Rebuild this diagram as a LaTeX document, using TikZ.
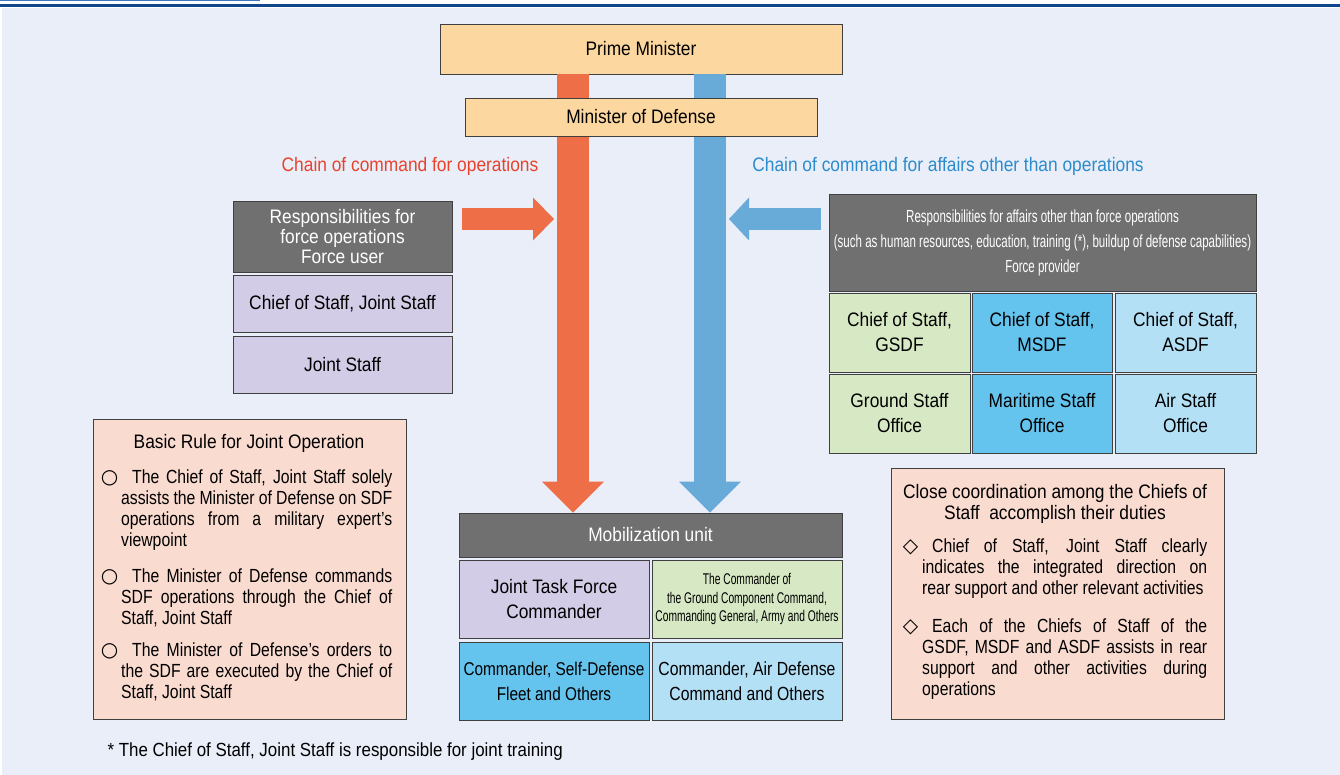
\documentclass[tikz,border=0pt]{standalone}
\usepackage{fontspec}
\setmainfont{Liberation Sans}[FakeStretch=0.89]
\newfontfamily\bodyfont{Liberation Sans}[FakeStretch=0.83]
\newfontfamily\narrowfont{Liberation Sans}[FakeStretch=0.66]
\newfontfamily\symfont{DejaVu Sans}
\usetikzlibrary{arrows.meta,calc,positioning}
\definecolor{mdbg}{RGB}{233,238,249}
\definecolor{mdline}{RGB}{18,70,138}
\definecolor{mdstrip}{RGB}{60,120,190}
\definecolor{mdpeach}{RGB}{252,216,160}
\definecolor{mdgray}{RGB}{112,112,112}
\definecolor{mdlilac}{RGB}{210,204,230}
\definecolor{mdgreen}{RGB}{215,232,196}
\definecolor{mdblue}{RGB}{100,196,238}
\definecolor{mdsky}{RGB}{180,224,246}
\definecolor{mdpink}{RGB}{250,219,208}
\definecolor{mdred}{RGB}{238,111,71}
\definecolor{mdazure}{RGB}{104,170,216}
\definecolor{mdredtxt}{RGB}{232,66,44}
\definecolor{mdbluetxt}{RGB}{44,139,204}
\newcommand{\orgcell}[7]{%
  \node[cell,fill=#6,minimum width=#4pt,minimum height=#5pt] (#1) at (#2,#3) {#7};
}
\newcommand{\circitem}{\leavevmode\llap{\fontsize{20}{20}\symfont ○\hspace{3pt}}\hspace*{11pt}}
\newcommand{\diaitem}{\leavevmode\llap{\fontsize{20}{20}\symfont ◇\hspace{4pt}}\hspace*{10pt}}

\begin{document}
\begin{tikzpicture}[x=1pt,y=-1pt,font=\fontsize{19.5}{21}\selectfont,
    cell/.style={draw=black!75,line width=0.9pt,inner sep=0pt,align=center,
      font=\fontsize{19.5}{25}\selectfont},
    rule/.style={anchor=north west,inner sep=0pt,align=justify,
      font=\bodyfont\fontsize{19}{21}\selectfont},
    chainred/.style={draw=mdred,line width=32pt,-{Triangle[length=31pt,width=62pt,line width=0pt]}},
    chainblue/.style={draw=mdazure,line width=32pt,-{Triangle[length=31pt,width=62pt,line width=0pt]}},
    sidered/.style={draw=mdred,line width=22pt,-{Triangle[length=21pt,width=43pt,line width=0pt]}},
    sideblue/.style={draw=mdazure,line width=22pt,-{Triangle[length=20pt,width=43pt,line width=0pt]}}]
  \useasboundingbox (0,0) rectangle (1340,775);
  \fill[white] (0,0) rectangle (1340,775);
  \fill[mdbg] (2,8) rectangle (1340,775);
  \fill[mdline] (0,4) rectangle (1340,7);
  \fill[mdstrip] (0,0) rectangle (260,1.5);

  \orgcell{pm}{641}{49}{402}{50}{mdpeach}{Prime Minister}
  \orgcell{mob}{650.5}{535}{383}{44}{mdgray}{\color{white}Mobilization unit}
  \coordinate (redx) at (573,0);
  \coordinate (bluex) at (710,0);
  \draw[chainred] (pm.south -| redx) -- (mob.north -| redx);
  \draw[chainblue] (pm.south -| bluex) -- (mob.north -| bluex);
  \orgcell{mod}{641}{117}{352}{38}{mdpeach}{Minister of Defense}

  \node[text=mdredtxt] (opslabel) at (410,166) {Chain of command for operations};
  \node[text=mdbluetxt] (afflabel) at (948,166) {Chain of command for affairs other than operations};

  \node[cell,fill=mdgray,text=white,minimum width=219pt,minimum height=71pt,
    font=\fontsize{19.5}{20}\selectfont] (user) at (342.5,236.5)
    {Responsibilities for\\force operations\\Force user};
  \orgcell{cjs}{342.5}{303.5}{219}{57}{mdlilac}{Chief of Staff, Joint Staff}
  \orgcell{js}{342.5}{364.5}{219}{57}{mdlilac}{Joint Staff}

  \node[cell,fill=mdgray,text=white,minimum width=427pt,minimum height=97pt,
    font=\narrowfont\fontsize{17.5}{25}\selectfont] (provider) at (1042.5,242.5)
    {Responsibilities for affairs other than force operations\\
     (such as human resources, education, training (*), buildup of defense capabilities)\\
     Force provider};
  \orgcell{cgsdf}{899.5}{332.5}{141}{79}{mdgreen}{Chief of Staff,\\GSDF}
  \orgcell{cmsdf}{1042}{332.5}{140}{79}{mdblue}{Chief of Staff,\\MSDF}
  \orgcell{casdf}{1185.5}{332.5}{141}{79}{mdsky}{Chief of Staff,\\ASDF}
  \orgcell{gso}{899.5}{413.5}{141}{79}{mdgreen}{Ground Staff\\Office}
  \orgcell{mso}{1042}{413.5}{140}{79}{mdblue}{Maritime Staff\\Office}
  \orgcell{aso}{1185.5}{413.5}{141}{79}{mdsky}{Air Staff\\Office}

  \coordinate (opsfrom) at (462,219);
  \coordinate (opsto) at (554,219);
  \coordinate (afffrom) at (821,219);
  \coordinate (affto) at (729,219);
  \draw[sidered] (opsfrom) -- (opsto);
  \draw[sideblue] (afffrom) -- (affto);

  \orgcell{jtf}{554}{599}{190}{78}{mdlilac}{Joint Task Force\\Commander}
  \node[cell,fill=mdgreen,minimum width=190pt,minimum height=78pt,
    font=\narrowfont\fontsize{15.5}{18.5}\selectfont] (gcc) at (747,599)
    {The Commander of\\the Ground Component Command,\\Commanding General, Army and Others};
  \node[cell,fill=mdblue,minimum width=190pt,minimum height=78pt,
    font=\bodyfont\fontsize{18.5}{25}\selectfont] (sdfleet) at (554,681)
    {Commander, Self-Defense\\Fleet and Others};
  \node[cell,fill=mdsky,minimum width=190pt,minimum height=78pt,
    font=\bodyfont\fontsize{19}{25}\selectfont] (adcom) at (747,681)
    {Commander, Air Defense\\Command and Others};

  \node[cell,fill=mdpink,minimum width=313pt,minimum height=300pt] (basic) at (249.5,569) {};
  \node (basictitle) at (249,443) {Basic Rule for Joint Operation};
  \node[rule,text width=271pt] (rule1) at (121,470)
    {\circitem The Chief of Staff, Joint Staff solely\linebreak assists the Minister of Defense on SDF\linebreak operations from a military expert’s\linebreak viewpoint};
  \node[rule,text width=271pt] (rule2) at (121,569)
    {\circitem The Minister of Defense commands\linebreak SDF operations through the Chief of\linebreak Staff, Joint Staff};
  \node[rule,text width=271pt] (rule3) at (121,643)
    {\circitem The Minister of Defense’s orders to\linebreak the SDF are executed by the Chief of\linebreak Staff, Joint Staff};

  \node[cell,fill=mdpink,minimum width=333pt,minimum height=251pt] (close) at (1057.5,593.5) {};
  \node[align=center,font=\fontsize{19.5}{20.5}\selectfont] (closetitle) at (1055,504)
    {Close coordination among the Chiefs of\\Staff\ \ accomplish their duties};
  \node[rule,text width=285pt] (duty1) at (922,539)
    {\diaitem Chief of Staff, Joint Staff clearly\linebreak indicates the integrated direction on\linebreak rear support and other relevant activities};
  \node[rule,text width=285pt] (duty2) at (922,619)
    {\diaitem Each of the Chiefs of Staff of the\linebreak GSDF, MSDF and ASDF assists in rear\linebreak support and other activities during\linebreak operations};

  \node[anchor=west,font=\fontsize{19}{21}\selectfont] (note) at (104,752) {* The Chief of Staff, Joint Staff is responsible for joint training};
\end{tikzpicture}
\end{document}
